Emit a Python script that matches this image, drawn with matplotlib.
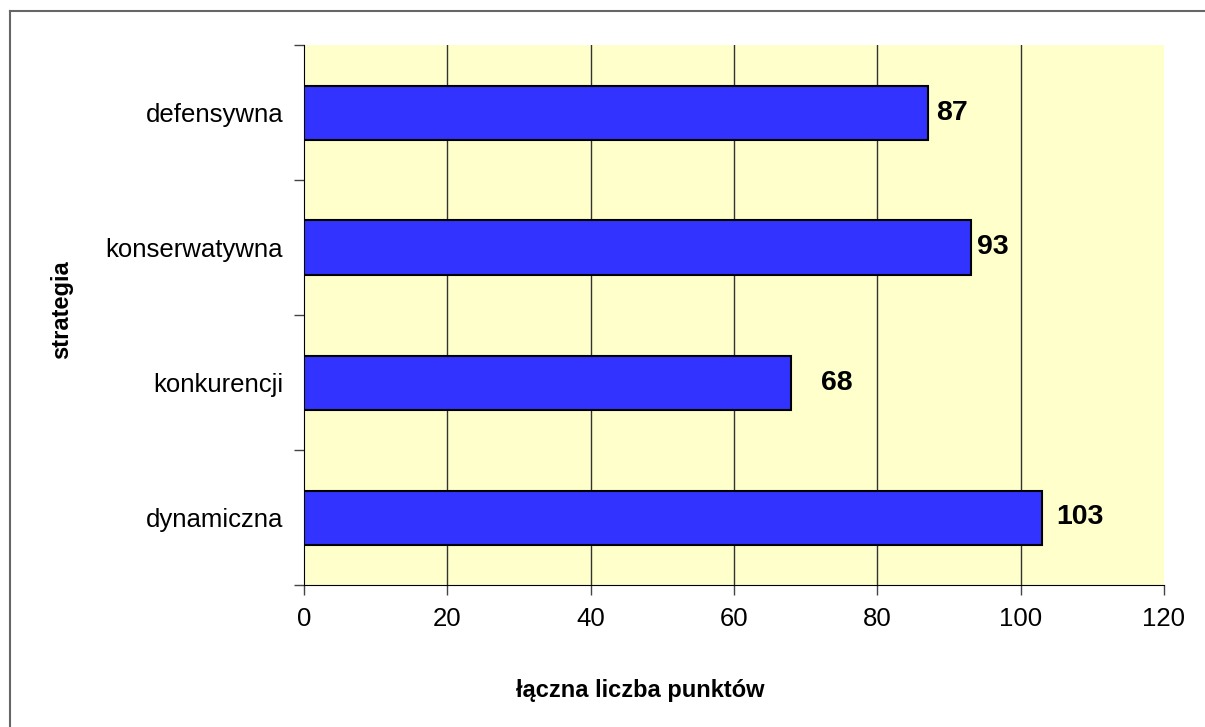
import matplotlib
matplotlib.use('Agg')
import matplotlib.pyplot as plt
from matplotlib.lines import Line2D

# Dane
kategorie = ['dynamiczna', 'konkurencji', 'konserwatywna', 'defensywna']
punkty = [103, 68, 93, 87]
# przesuniecie etykiet wartosci (jednostki osi x)
przesuniecie = [5.3, 6.4, 3.1, 3.4]
x_ticki = [0, 20, 40, 60, 80, 100, 120]

plt.rcParams['font.family'] = ['Liberation Sans', 'DejaVu Sans']

fig = plt.figure(figsize=(12.05, 7.27), dpi=100)
ax = fig.add_axes([304 / 1205, 1 - 585 / 727, 860 / 1205, 540 / 727])
ax.set_facecolor('#FFFFCC')

pos = list(range(len(kategorie)))
ax.barh(pos, punkty, height=0.4, color='#3333FF', edgecolor='black',
        linewidth=1.5, zorder=3)

for p, v, d in zip(pos, punkty, przesuniecie):
    ax.text(v + d, p, str(v), ha='center', va='center', fontsize=20.5,
            fontweight='bold', zorder=4)

ax.set_xlim(0, 120)
ax.set_ylim(-0.5, len(kategorie) - 0.5)
ax.set_xticks(x_ticki)
ax.set_xticklabels([str(t) for t in x_ticki], fontsize=18.5)

# ticki kategorii na granicach
ax.set_yticks([i - 0.5 for i in range(len(kategorie) + 1)])
ax.set_yticklabels([])
ax.set_yticks(pos, minor=True)
ax.set_yticklabels(kategorie, minor=True, fontsize=18.5)
ax.tick_params(axis='y', which='minor', length=0, pad=15)
ax.tick_params(axis='y', which='major', length=7, width=1, color='#444444')
ax.tick_params(axis='x', length=7, width=1, color='#444444', pad=9)

for g in x_ticki[1:-1]:
    ax.axvline(g, color='#333333', linewidth=1, zorder=1)

for s in ['top', 'right']:
    ax.spines[s].set_visible(False)
ax.spines['left'].set_color('black')
ax.spines['bottom'].set_color('black')

fig.text(62 / 1205, 1 - 310 / 727, 'strategia', rotation=90, ha='center',
         va='center', fontsize=17, fontweight='bold')
fig.text(640 / 1205, 1 - 690 / 727, 'łączna liczba punktów', ha='center',
         va='center', fontsize=17, fontweight='bold')

# ramka wykresu (gora i lewa krawedz)
fig.add_artist(Line2D([9.5 / 1205, 9.5 / 1205], [0, 1 - 10.5 / 727],
                      transform=fig.transFigure, color='#666666', linewidth=1.5))
fig.add_artist(Line2D([9.5 / 1205, 1], [1 - 10.5 / 727, 1 - 10.5 / 727],
                      transform=fig.transFigure, color='#666666', linewidth=1.5))

fig.savefig('out.png', dpi=100)
